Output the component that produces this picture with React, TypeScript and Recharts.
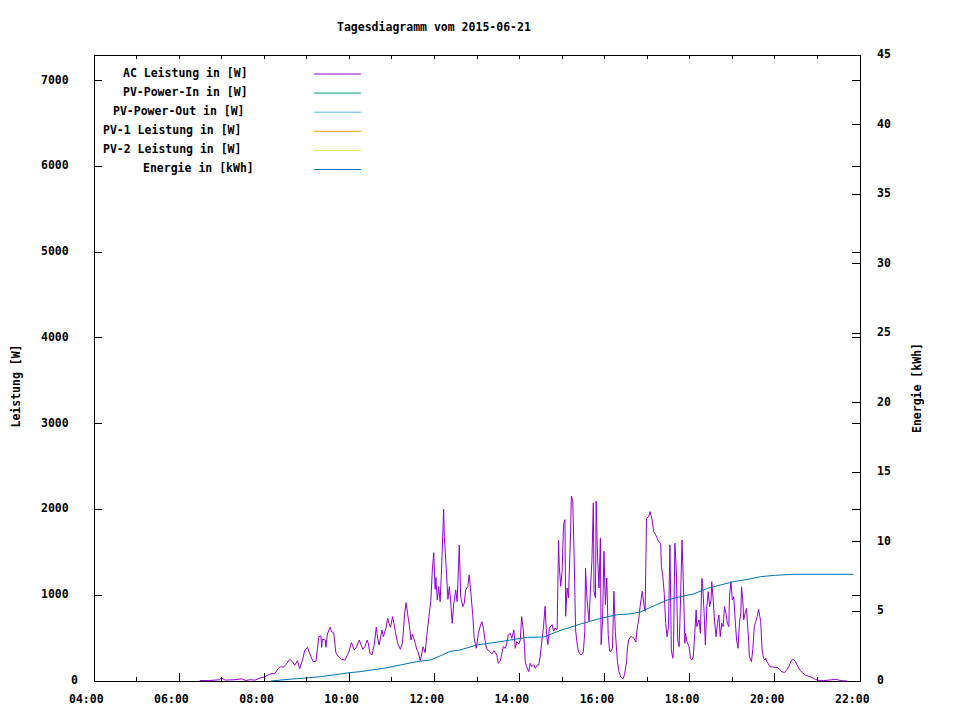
import React from 'react';
import { LineChart, Line, XAxis, YAxis, ReferenceArea } from 'recharts';

// time in minutes since midnight, AC power in W
const acTimes = [
  389, 403, 417, 420, 425, 439, 448, 454, 460, 467, 474, 481, 488, 495, 500, 503, 507, 511, 516, 520,
  523, 527, 530, 534, 537, 541, 544, 549, 553, 555, 557, 560, 561, 562, 566, 567, 569, 573, 575, 578,
  581, 584, 589, 594, 599, 603, 607, 610, 614, 619, 622, 625, 627, 629, 632, 635, 638, 640, 642, 646,
  648, 652, 654, 656, 658, 661, 665, 668, 672, 675, 678, 680, 682, 685, 687, 689, 693, 695, 697, 700,
  702, 704, 707, 709, 712, 715, 717, 719, 721, 722, 724, 726, 728, 730, 733, 734, 737, 739, 741, 743,
  745, 747, 750, 752, 754, 755, 757, 760, 762, 764, 767, 769, 771, 774, 776, 779, 782, 785, 787, 789,
  792, 794, 798, 801, 804, 808, 810, 813, 815, 817, 820, 822, 824, 827, 829, 832, 834, 836, 839, 841,
  843, 845, 847, 848, 850, 853, 855, 857, 860, 862, 865, 867, 869, 872, 874, 876, 878, 880, 882, 886,
  888, 890, 893, 894, 895, 896, 898, 900, 902, 904, 905, 907, 909, 912, 913, 915, 917, 919, 921, 923,
  926, 928, 930, 932, 933, 935, 937, 938, 940, 942, 944, 945, 947, 948, 950, 952, 954, 955, 957, 959,
  961, 962, 963, 965, 967, 969, 971, 973, 975, 978, 980, 983, 986, 988, 991, 992, 994, 997, 999, 1001,
  1004, 1006, 1008, 1010, 1013, 1015, 1017, 1018, 1019, 1022, 1024, 1027, 1029, 1032, 1034, 1036, 1039, 1040, 1042, 1044,
  1046, 1048, 1050, 1052, 1054, 1056, 1057, 1059, 1061, 1063, 1065, 1067, 1069, 1071, 1073, 1074, 1076, 1079, 1081, 1083,
  1085, 1087, 1089, 1090, 1093, 1095, 1097, 1098, 1100, 1102, 1104, 1106, 1108, 1110, 1111, 1113, 1115, 1117, 1119, 1121,
  1123, 1125, 1127, 1129, 1131, 1133, 1135, 1136, 1138, 1140, 1142, 1144, 1146, 1148, 1150, 1152, 1153, 1155, 1156, 1158,
  1160, 1161, 1163, 1164, 1167, 1169, 1171, 1173, 1175, 1177, 1180, 1182, 1184, 1186, 1187, 1189, 1193, 1199, 1203, 1207,
  1210, 1214, 1216, 1220, 1223, 1226, 1229, 1232, 1235, 1239, 1243, 1248, 1253, 1257, 1262, 1269, 1286, 1293, 1302,
];
const acWatts = [
  5, 5, 15, 35, 10, 15, 25, 5, 15, 10, 35, 50, 82, 90, 148, 167, 160, 195, 253, 222,
  183, 237, 143, 245, 354, 393, 323, 225, 230, 370, 517, 525, 393, 487, 478, 393, 548, 627, 575, 563,
  330, 292, 253, 245, 330, 447, 362, 393, 478, 370, 400, 478, 432, 323, 303, 420, 627, 498, 420, 595,
  517, 627, 732, 673, 627, 750, 575, 440, 370, 447, 790, 913, 790, 627, 478, 548, 440, 370, 342, 237,
  315, 400, 330, 517, 732, 945, 1295, 1497, 1070, 1205, 945, 1100, 925, 1295, 2003, 1677, 1257, 953, 1100, 907,
  673, 887, 1062, 925, 1350, 1587, 983, 867, 907, 1062, 1100, 1237, 1062, 770, 498, 381, 556, 653, 692, 615,
  440, 370, 342, 315, 354, 303, 206, 237, 323, 400, 381, 440, 537, 556, 498, 595, 381, 459, 432, 478,
  750, 615, 400, 225, 167, 109, 206, 167, 187, 148, 187, 187, 280, 502, 657, 871, 540, 424, 618, 657,
  580, 618, 600, 1124, 1640, 1338, 1105, 1280, 1824, 1882, 755, 1085, 968, 1747, 2155, 2097, 1435, 598, 443, 346,
  307, 307, 346, 580, 1318, 968, 773, 697, 1085, 1397, 2077, 1047, 968, 2097, 1435, 1085, 1668, 424, 697, 1513,
  890, 1047, 1202, 540, 346, 346, 385, 1047, 580, 230, 113, 43, 27, 74, 230, 385, 482, 521, 510, 502,
  455, 618, 715, 871, 1047, 910, 813, 1334, 1898, 1917, 1975, 1878, 1742, 1703, 1665, 1625, 1606, 1334, 1217, 1023,
  673, 517, 634, 1587, 362, 265, 362, 1606, 1295, 478, 400, 945, 1645, 1140, 440, 556, 459, 400, 265, 245,
  284, 556, 828, 634, 712, 556, 1198, 1140, 828, 420, 867, 1042, 867, 945, 1159, 945, 692, 517, 673, 770,
  517, 673, 634, 867, 790, 673, 634, 983, 1159, 945, 983, 712, 478, 381, 673, 800, 1100, 907, 712, 790,
  848, 712, 478, 284, 225, 381, 634, 692, 750, 837, 692, 362, 265, 245, 265, 225, 167, 160, 160, 136,
  105, 101, 120, 175, 237, 253, 225, 175, 128, 97, 70, 54, 39, 20, 4, 4, 20, 4, 0,
];

// cumulative energy in kWh
const energyTimes = [
  489, 519, 540, 559, 577, 601, 615, 648, 672, 695, 714, 728, 742, 756, 780, 813, 851, 874,
  893, 926, 954, 978, 996, 1010, 1025, 1048, 1067, 1085, 1105, 1123, 1142, 1166, 1180, 1201, 1226, 1311,
];
const energyKwh = [
  0, 0.14, 0.22, 0.31, 0.43, 0.6, 0.67, 0.91, 1.15, 1.39, 1.51, 1.8, 2.13, 2.23, 2.59, 2.83, 3.14, 3.16,
  3.55, 4.1, 4.5, 4.77, 4.82, 4.96, 5.3, 5.82, 6.06, 6.25, 6.66, 6.9, 7.14, 7.35, 7.5, 7.6, 7.67, 7.67,
];

const hourTicks = [240, 300, 360, 420, 480, 540, 600, 660, 720, 780, 840, 900, 960, 1020, 1080, 1140, 1200, 1260, 1320];
const wattTicks = [0, 1000, 2000, 3000, 4000, 5000, 6000, 7000];
const kwhTicks = [0, 5, 10, 15, 20, 25, 30, 35, 40, 45];

const legendNames = [
  'AC Leistung in [W]',
  'PV-Power-In in [W]',
  'PV-Power-Out in [W]',
  'PV-1 Leistung in [W]',
  'PV-2 Leistung in [W]',
  'Energie in [kWh]',
];
const legendColors = ['#9400d3', '#009e73', '#56b4e9', '#e69f00', '#f0e442', '#0072b2'];

const acData = acTimes.map((t, i) => ({ t, ac: acWatts[i] }));
const energyData = energyTimes.map((t, i) => ({ t, e: energyKwh[i] }));

const PLOT = { left: 94, right: 860, top: 55, bottom: 681 };
const textStyle = {
  fontFamily: "'DejaVu Sans Mono', monospace",
  fontSize: 11.5,
  fontWeight: 'bold' as const,
  fill: '#000',
};

function HourTick({ x, y, payload }: any) {
  const major = payload.value % 120 === 0;
  const hh = String(Math.floor(payload.value / 60)).padStart(2, '0');
  return (
    <g>
      <line x1={x} x2={x} y1={y} y2={y - (major ? 8 : 4)} stroke="#000" shapeRendering="crispEdges" />
      <line x1={x} x2={x} y1={PLOT.top} y2={PLOT.top + 4} stroke="#000" shapeRendering="crispEdges" />
      {major && (
        <text x={x - 25} y={y + 18} dominantBaseline="central" {...textStyle}>
          {`${hh}:00`}
        </text>
      )}
    </g>
  );
}

function WattTick({ x, y, payload }: any) {
  const label = String(payload.value);
  return (
    <g>
      <line x1={x} x2={x + 8} y1={y} y2={y} stroke="#000" shapeRendering="crispEdges" />
      <line x1={PLOT.right - 8} x2={PLOT.right} y1={y} y2={y} stroke="#000" shapeRendering="crispEdges" />
      <text x={81 - label.length * 10} y={y - 1} dominantBaseline="central" {...textStyle}>
        {label}
      </text>
    </g>
  );
}

function KwhTick({ x, y, payload }: any) {
  return (
    <g>
      <line x1={x - 8} x2={x} y1={y} y2={y} stroke="#000" shapeRendering="crispEdges" />
      <text x={x + 17} y={y - 1} dominantBaseline="central" {...textStyle}>
        {String(payload.value)}
      </text>
    </g>
  );
}

export default function App() {
  return (
    <div style={{ position: 'absolute', left: 0, top: 0, width: 960, height: 720, background: '#fff' }}>
      <LineChart width={960} height={720} margin={{ top: 55, right: 0, bottom: 0, left: 0 }}>
        <XAxis
          dataKey="t"
          type="number"
          domain={[240, 1320]}
          ticks={hourTicks}
          interval={0}
          height={39}
          axisLine={false}
          tickLine={false}
          tickSize={0}
          tickMargin={0}
          tick={HourTick}
          allowDuplicatedCategory={false}
        />
        <YAxis
          yAxisId="w"
          domain={[0, 7300]}
          ticks={wattTicks}
          interval={0}
          width={94}
          axisLine={false}
          tickLine={false}
          tickSize={0}
          tickMargin={0}
          tick={WattTick}
        />
        <YAxis
          yAxisId="kwh"
          orientation="right"
          domain={[0, 45]}
          ticks={kwhTicks}
          interval={0}
          width={100}
          axisLine={false}
          tickLine={false}
          tickSize={0}
          tickMargin={0}
          tick={KwhTick}
        />
        <ReferenceArea
          yAxisId="w"
          x1={240}
          x2={1320}
          y1={0}
          y2={7300}
          fill="none"
          stroke="#000"
          strokeWidth={1}
          shapeRendering="crispEdges"
        />
        <Line
          yAxisId="w"
          data={acData}
          dataKey="ac"
          type="linear"
          stroke={legendColors[0]}
          strokeWidth={1}
          dot={false}
          activeDot={false}
          isAnimationActive={false}
        />
        <Line
          yAxisId="kwh"
          data={energyData}
          dataKey="e"
          type="linear"
          stroke={legendColors[5]}
          strokeWidth={1}
          dot={false}
          activeDot={false}
          isAnimationActive={false}
        />
      </LineChart>

      <svg width={960} height={720} style={{ position: 'absolute', left: 0, top: 0, pointerEvents: 'none' }}>
        <text x={337} y={27} dominantBaseline="central" {...textStyle}>
          Tagesdiagramm vom 2015-06-21
        </text>
        <text
          x={16}
          y={386}
          textAnchor="middle"
          dominantBaseline="central"
          transform="rotate(-90 16 386)"
          {...textStyle}
        >
          Leistung [W]
        </text>
        <text
          x={917}
          y={388}
          textAnchor="middle"
          dominantBaseline="central"
          transform="rotate(-90 917 388)"
          {...textStyle}
        >
          Energie [kWh]
        </text>
        {legendNames.map((name, i) => (
          <g key={name}>
            <text x={303 - name.length * 10} y={72.5 + i * 19.1} dominantBaseline="central" {...textStyle}>
              {name}
            </text>
            <line
              x1={314}
              x2={361}
              y1={74 + i * 19.1}
              y2={74 + i * 19.1}
              stroke={legendColors[i]}
              strokeWidth={1}
            />
          </g>
        ))}
      </svg>
    </div>
  );
}
